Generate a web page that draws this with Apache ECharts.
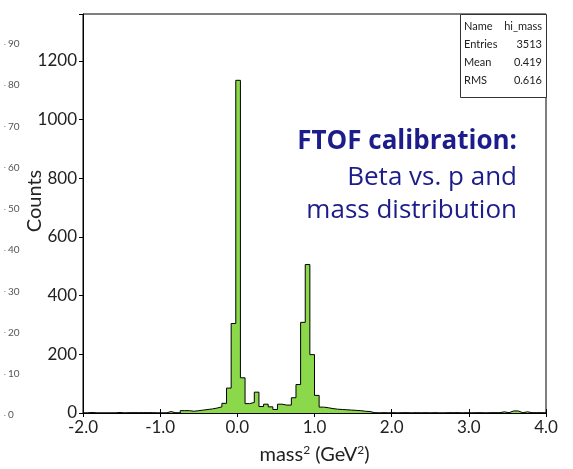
<!DOCTYPE html>
<html>
<head>
<meta charset="utf-8">
<script src="https://cdn.jsdelivr.net/npm/echarts@6/dist/echarts.min.js"></script>
<style>
html,body{margin:0;padding:0;background:#fff;}
#chart{width:573px;height:469px;}
</style>
</head>
<body>
<div id="chart"></div>
<script>
// Histogram binning (100 bins from -2.0 to 4.0)
const binStart = -2.0;
const binWidth = 0.06;
const counts = [
  0, 2, 0, 0, 0, 0, 0, 2, 0, 1,
  1, 1, 1, 1, 1, 0, 0, 0, 5, 1,
  0, 8, 8, 6, 8, 10, 12, 14, 17, 21,
  33, 85, 305, 1134, 120, 32, 36, 71, 22, 30,
  21, 12, 30, 27, 27, 52, 97, 309, 506, 199,
  60, 20, 18, 15, 13, 12, 11, 10, 9, 8,
  6, 5, 1, 0, 1, 0, 1, 0, 1, 1,
  0, 1, 0, 1, 0, 1, 0, 0, 1, 1,
  1, 0, 1, 0, 1, 1, 0, 1, 1, 1,
  4, 1, 7, 7, 1, 4, 1, 1, 1, 0
];
const xTicks = [-2, -1, 0, 1, 2, 3, 4];
const yTicks = [0, 200, 400, 600, 800, 1000, 1200];
const sideTicks = [0, 10, 20, 30, 40, 50, 60, 70, 80, 90];
const statsLabels = ['Name', 'Entries', 'Mean', 'RMS'];
const statsValues = ['hi_mass', '3513', '0.419', '0.616'];
const titleLines = ['FTOF calibration:', 'Beta vs. p and', 'mass distribution'];

const stepData = counts.map((c, i) => [binStart + i * binWidth, c]);
stepData.push([binStart + counts.length * binWidth, counts[counts.length - 1]]);

const FONT = 'Lato';
const TICKFONT = 'Lato';
const chart = echarts.init(document.getElementById('chart'), null, {renderer: 'canvas'});

const statsGraphics = [];
statsLabels.forEach((l, i) => {
  statsGraphics.push({type: 'text', left: 464, top: 21 + i * 18,
    style: {text: l, font: '11px ' + FONT, fill: '#222'}});
  statsGraphics.push({type: 'text', right: 31, top: 21 + i * 18,
    style: {text: statsValues[i], font: '11px ' + FONT, fill: '#222', textAlign: 'right'}});
});

const titleBaselines = [155, 191, 224];
const titleGraphics = titleLines.map((t, i) => ({
  type: 'text', x: 517, y: titleBaselines[i],
  style: {text: t, font: (i === 0 ? 'bold ' : '') + '26px "Open Sans"', fill: '#1c1c8a',
    textAlign: 'right', textVerticalAlign: 'bottom'}
}));

chart.setOption({
  animation: false,
  backgroundColor: '#ffffff',
  grid: [
    {left: 83, right: 27, top: 14, bottom: 56, outerBoundsMode: 'none', containLabel: false,
     show: true, borderColor: '#000', borderWidth: 1, backgroundColor: 'transparent'},
    {left: 4, width: 1, top: 44, bottom: 54, outerBoundsMode: 'none', containLabel: false}
  ],
  xAxis: [
    {type: 'value', gridIndex: 0, min: -2, max: 4, interval: 1,
     axisLine: {show: true, onZero: false, lineStyle: {color: '#000', width: 1}},
     axisTick: {show: true, inside: true, length: 4, lineStyle: {color: '#000'}},
     axisLabel: {show: true, margin: 6, fontFamily: TICKFONT, fontSize: 17, color: '#222',
       formatter: v => v.toFixed(1)},
     splitLine: {show: false},
     name: 'mass{s|2} (GeV{s|2})', nameLocation: 'middle', nameGap: 31,
     nameTextStyle: {fontFamily: TICKFONT, fontSize: 20, color: '#222',
       rich: {s: {fontFamily: TICKFONT, fontSize: 12, color: '#222', verticalAlign: 'top', padding: [0, 0, 9, 0]}}}},
    {type: 'value', gridIndex: 0, position: 'top', min: -2, max: 4, interval: 1,
     axisLine: {show: false}, axisTick: {show: true, inside: true, length: 4, lineStyle: {color: '#000'}},
     axisLabel: {show: false}, splitLine: {show: false}},
    {type: 'value', gridIndex: 1, min: 0, max: 1, show: false}
  ],
  yAxis: [
    {type: 'value', gridIndex: 0, min: 0, max: 1360, interval: 200,
     axisLine: {show: true, onZero: false, lineStyle: {color: '#000', width: 1}},
     axisTick: {show: true, inside: false, length: 4, lineStyle: {color: '#000'}},
     axisLabel: {show: true, margin: 6, fontFamily: TICKFONT, fontSize: 17, color: '#222',
       formatter: v => (yTicks.indexOf(v) >= 0 ? String(v) : '')},
     splitLine: {show: false}},
    {type: 'value', gridIndex: 1, min: 0, max: 90, interval: 10,
     axisLine: {show: false},
     axisTick: {show: true, inside: true, length: 1.5, lineStyle: {color: '#aaa'}},
     axisLabel: {show: true, inside: true, margin: 4, fontFamily: FONT, fontSize: 10, color: '#555',
       formatter: v => (sideTicks.indexOf(v) >= 0 ? String(v) : '')},
     splitLine: {show: false}}
  ],
  series: [{
    type: 'line', xAxisIndex: 0, yAxisIndex: 0, step: 'end', data: stepData,
    symbol: 'none', lineStyle: {color: '#000', width: 1},
    areaStyle: {color: '#8bd94a', opacity: 1}
  }],
  graphic: [
    {type: 'text', x: 35, y: 201, rotation: Math.PI / 2,
     style: {text: 'Counts', font: '20px ' + FONT, fill: '#222', textAlign: 'center', textVerticalAlign: 'middle'}},
    {type: 'rect', left: 460, top: 14, shape: {width: 86, height: 83},
     style: {fill: '#fff', stroke: '#333', lineWidth: 1}},
    ...statsGraphics,
    ...titleGraphics
  ]
});
</script>
</body>
</html>
